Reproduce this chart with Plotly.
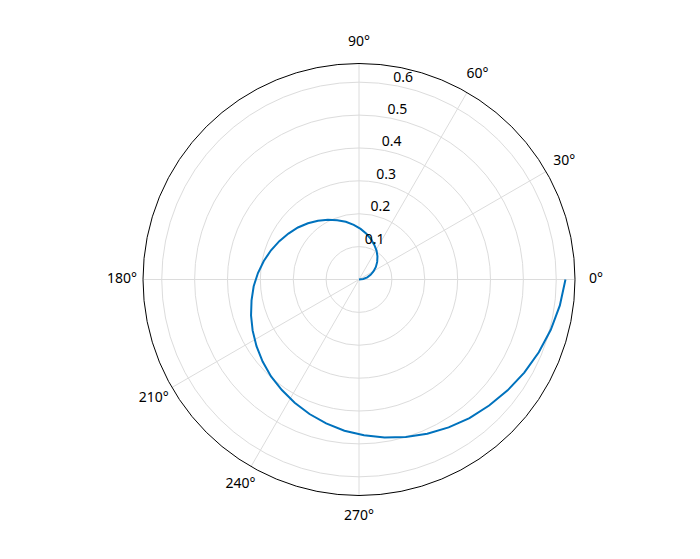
import plotly.graph_objects as go

theta_deg = [0.0, 7.35, 14.69, 22.04, 29.39, 36.73, 44.08, 51.43, 58.78, 66.12,
             73.47, 80.82, 88.16, 95.51, 102.86, 110.20, 117.55, 124.90, 132.24, 139.59,
             146.94, 154.29, 161.63, 168.98, 176.33, 183.67, 191.02, 198.37, 205.71, 213.06,
             220.41, 227.76, 235.10, 242.45, 249.80, 257.14, 264.49, 271.84, 279.18, 286.53,
             293.88, 301.22, 308.57, 315.92, 323.27, 330.61, 337.96, 345.31, 352.65, 360.0]
r_vals = [0.000, 0.013, 0.026, 0.038, 0.051, 0.064, 0.077, 0.090, 0.103, 0.115,
          0.128, 0.141, 0.154, 0.167, 0.180, 0.192, 0.205, 0.218, 0.231, 0.244,
          0.256, 0.269, 0.282, 0.295, 0.308, 0.321, 0.333, 0.346, 0.359, 0.372,
          0.385, 0.398, 0.410, 0.423, 0.436, 0.449, 0.462, 0.474, 0.487, 0.500,
          0.513, 0.526, 0.539, 0.551, 0.564, 0.577, 0.590, 0.603, 0.616, 0.628]

angle_ticks = [0, 30, 60, 90, 180, 210, 240, 270]
angle_labels = ["0°", "30°", "60°", "90°", "180°", "210°", "240°", "270°"]
r_ticks = [0.1, 0.2, 0.3, 0.4, 0.5, 0.6]
r_labels = ["0.1", "0.2", "0.3", "0.4", "0.5", "0.6"]

R_MAX = 0.657
R_LABEL_ANGLE = 80

W, H = 700, 559
cx, cy, R = 359 - 8, 279.5 - 8, 216     # plot centre / rim radius in px
R2 = 240                                 # outer label layer radius in px
R2_MAX = R_MAX * R2 / R                  # same data scale in the label layer
THETA_LABEL_R = R_MAX * 237 / R          # label centres 21 px outside the rim

fig = go.Figure()
fig.add_trace(go.Scatterpolar(r=r_vals, theta=theta_deg, mode="lines",
                              line=dict(color="#0072BD", width=2), showlegend=False,
                              hoverinfo="skip"))
# radial tick labels (horizontal, beside the 80° ray)
fig.add_trace(go.Scatterpolar(r=r_ticks, theta=[R_LABEL_ANGLE] * len(r_ticks), mode="text",
                              text=r_labels, textposition="top right",
                              textfont=dict(family="Noto Sans", size=14, color="#000000"),
                              showlegend=False, hoverinfo="skip", cliponaxis=False))
# angular tick labels centred on a ring outside the rim (separate transparent layer)
fig.add_trace(go.Scatterpolar(r=[THETA_LABEL_R] * len(angle_ticks), theta=angle_ticks, mode="text",
                              text=angle_labels, textposition="middle center",
                              textfont=dict(family="Noto Sans", size=14, color="#000000"),
                              showlegend=False, hoverinfo="skip", cliponaxis=False,
                              subplot="polar2"))

fig.update_layout(
    width=W, height=H,
    margin=dict(l=0, r=0, t=0, b=0),
    paper_bgcolor="white",
    font=dict(family="Noto Sans", size=14, color="#000000"),
    polar=dict(
        domain=dict(x=[(cx - R) / W, (cx + R) / W], y=[(H - cy - R) / H, (H - cy + R) / H]),
        bgcolor="white",
        angularaxis=dict(
            direction="counterclockwise", rotation=0,
            tickmode="array", tickvals=angle_ticks, ticktext=angle_labels,
            showticklabels=False,
            showline=True, linecolor="black", linewidth=1,
            showgrid=True, gridcolor="#dcdcdc", gridwidth=1,
            ticks="",
        ),
        radialaxis=dict(
            range=[0, R_MAX], angle=80,
            tickmode="array", tickvals=r_ticks,
            showticklabels=False,
            showline=False, showgrid=True, gridcolor="#dcdcdc", gridwidth=1,
            ticks="",
        ),
    ),
    polar2=dict(
        domain=dict(x=[(cx - R2) / W, (cx + R2) / W], y=[(H - cy - R2) / H, (H - cy + R2) / H]),
        bgcolor="rgba(0,0,0,0)",
        angularaxis=dict(direction="counterclockwise", rotation=0,
                         showline=False, showgrid=False, showticklabels=False, ticks=""),
        radialaxis=dict(range=[0, R2_MAX], showline=False, showgrid=False,
                        showticklabels=False, ticks=""),
    ),
)
fig.write_html("out.html")
